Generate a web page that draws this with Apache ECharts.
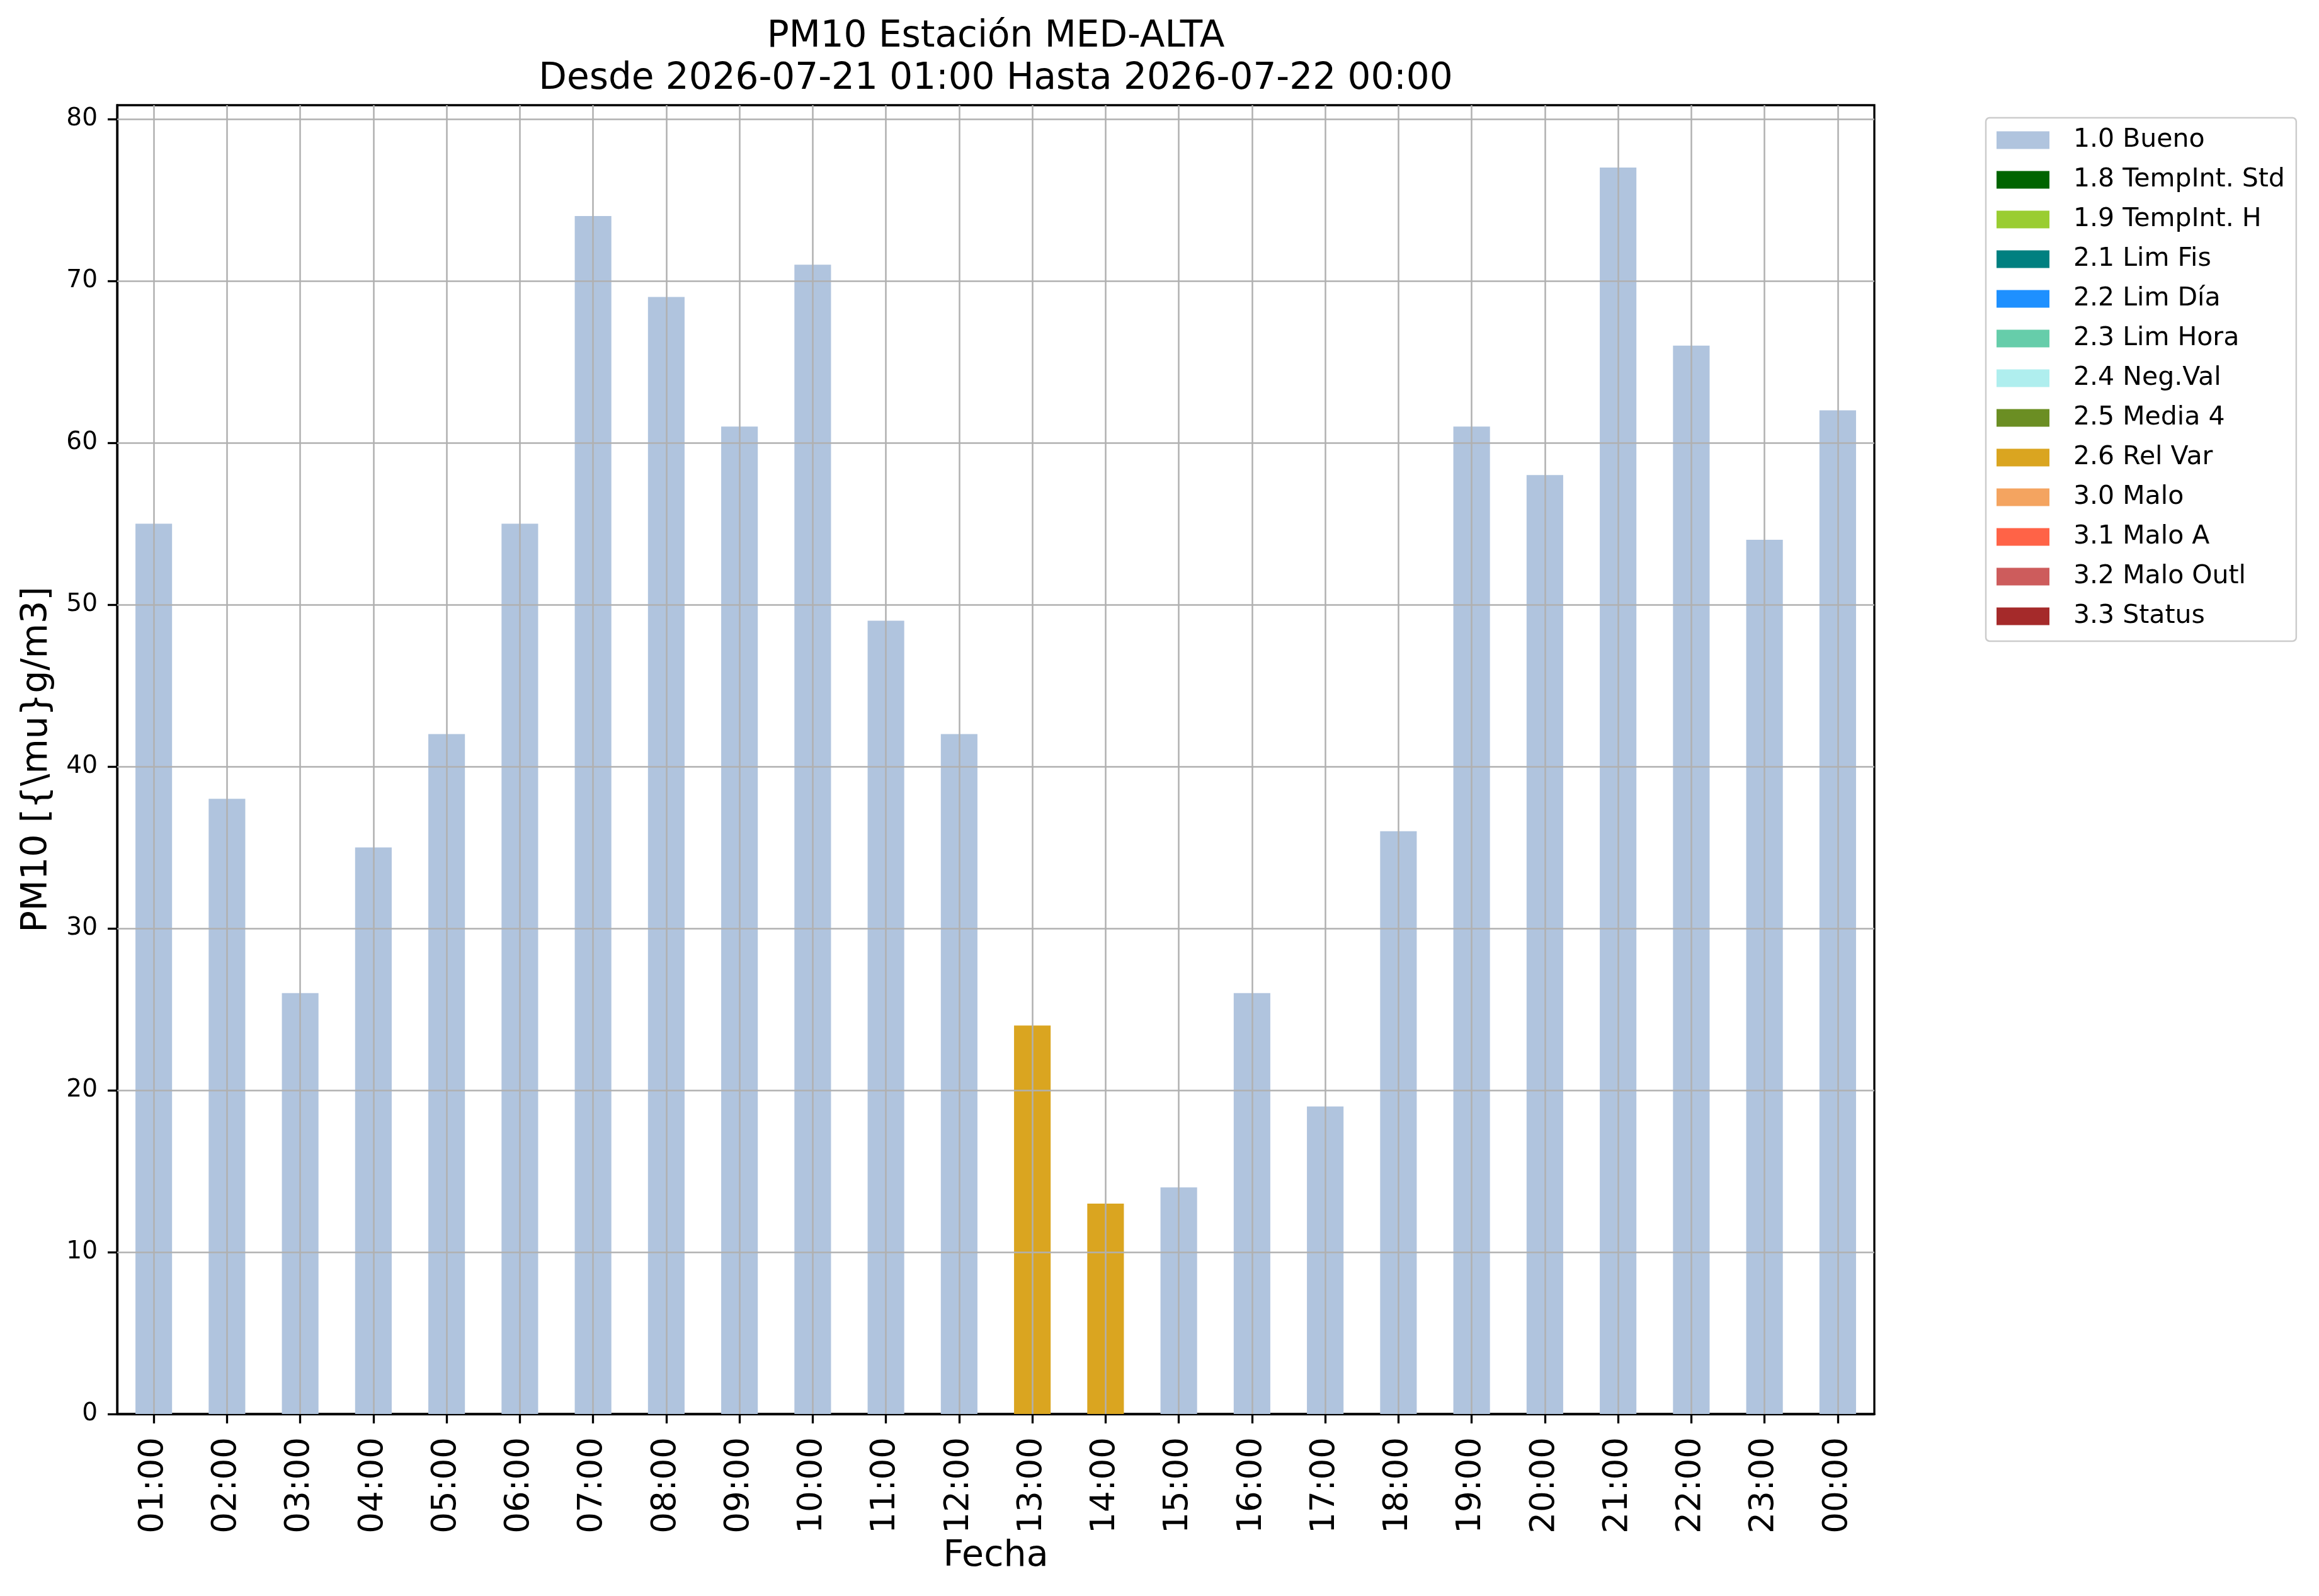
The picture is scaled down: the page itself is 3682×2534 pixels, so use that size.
<!DOCTYPE html>
<html lang="es" style="height: 100%">
  <head>
    <meta charset="utf-8" />
  </head>
  <body style="height: 100%; margin: 0; background: #ffffff">
    <div id="container" style="width: 3682px; height: 2534px"></div>

    <script
      type="text/javascript"
      src="https://cdn.jsdelivr.net/npm/echarts@6/dist/echarts.min.js"
    ></script>

    <script type="text/javascript">
      // horas del dia (eje x)
      var hours = [
        "01:00", "02:00", "03:00", "04:00", "05:00", "06:00",
        "07:00", "08:00", "09:00", "10:00", "11:00", "12:00",
        "13:00", "14:00", "15:00", "16:00", "17:00", "18:00",
        "19:00", "20:00", "21:00", "22:00", "23:00", "00:00",
      ];

      // valores por flag de calidad
      var bueno = [
        55, 38, 26, 35, 42, 55, 74, 69, 61, 71, 49, 42,
        null, null, 14, 26, 19, 36, 61, 58, 77, 66, 54, 62,
      ];
      var relVar = [
        null, null, null, null, null, null, null, null, null, null, null, null,
        24, 13, null, null, null, null, null, null, null, null, null, null,
      ];

      var flagNames = [
        "1.0 Bueno", "1.8 TempInt. Std", "1.9 TempInt. H", "2.1 Lim Fis",
        "2.2 Lim Día", "2.3 Lim Hora", "2.4 Neg.Val", "2.5 Media 4",
        "2.6 Rel Var", "3.0 Malo", "3.1 Malo A", "3.2 Malo Outl", "3.3 Status",
      ];
      var flagColors = [
        "#b0c4de", "#006400", "#9acd32", "#008080",
        "#1e90ff", "#66cdaa", "#afeeee", "#6b8e23",
        "#daa520", "#f4a460", "#ff6347", "#cd5c5c", "#a52a2a",
      ];

      var yTicks = [0, 10, 20, 30, 40, 50, 60, 70, 80];
      var yMax = 80.85;

      var FONT = "DejaVu Sans";
      var GRID_COLOR = "#b0b0b0";

      var dom = document.getElementById("container");
      var myChart = echarts.init(dom, null, { renderer: "canvas" });

      var empty = hours.map(function () {
        return null;
      });
      var dataByFlag = {
        "1.0 Bueno": bueno,
        "2.6 Rel Var": relVar,
      };

      var series = flagNames.map(function (name, i) {
        return {
          name: name,
          type: "bar",
          stack: "flags",
          barWidth: "50%",
          itemStyle: { color: flagColors[i] },
          data: dataByFlag[name] || empty,
        };
      });

      // rejilla estilo matplotlib, por encima de las barras
      // (la linea de 0 la tapa el eje)
      var gridLines = hours
        .map(function (h) {
          return { xAxis: h };
        })
        .concat(
          yTicks
            .filter(function (v) {
              return v > 0;
            })
            .map(function (v) {
              return { yAxis: v };
            })
        );
      series.push({
        name: "grid",
        type: "line",
        data: [],
        z: 5,
        markLine: {
          silent: true,
          symbol: "none",
          label: { show: false },
          lineStyle: { color: GRID_COLOR, width: 2.5, type: "solid" },
          emphasis: { disabled: true },
          animation: false,
          data: gridLines,
        },
      });

      var option = {
        animation: false,
        backgroundColor: "#ffffff",
        textStyle: { fontFamily: FONT, color: "#000" },
        title: {
          text: "PM10 Estación MED-ALTA\nDesde 2026-07-21 01:00 Hasta 2026-07-22 00:00",
          left: 1581,
          top: 25,
          padding: 0,
          textAlign: "center",
          textStyle: {
            fontFamily: FONT,
            fontSize: 58,
            fontWeight: "normal",
            lineHeight: 67,
            color: "#000",
          },
        },
        legend: {
          orient: "vertical",
          left: 3153,
          top: 187,
          data: flagNames,
          icon: "rect",
          itemWidth: 84,
          itemHeight: 28,
          itemGap: 22,
          padding: [15, 18, 19, 17],
          borderColor: "#cccccc",
          borderWidth: 2.5,
          borderRadius: 6,
          selectedMode: false,
          textStyle: {
            fontFamily: FONT,
            fontSize: 41,
            lineHeight: 41,
            color: "#000",
            padding: [0, 0, 0, 33],
          },
        },
        grid: {
          left: 186,
          right: 706,
          top: 167,
          bottom: 289,
          show: true,
          borderColor: "#000",
          borderWidth: 3.3,
          backgroundColor: "transparent",
        },
        xAxis: {
          type: "category",
          data: hours,
          boundaryGap: true,
          name: "Fecha",
          nameLocation: "middle",
          nameGap: 198,
          nameTextStyle: { fontFamily: FONT, fontSize: 57, color: "#000" },
          axisLine: { show: true, lineStyle: { color: "#000", width: 3.3 } },
          axisTick: {
            show: true,
            alignWithLabel: true,
            interval: 0,
            length: 15,
            lineStyle: { color: "#000", width: 3.3 },
          },
          axisLabel: {
            interval: 0,
            rotate: 90,
            margin: 37,
            fontFamily: FONT,
            fontSize: 53,
            color: "#000",
          },
          splitLine: { show: false },
        },
        yAxis: {
          type: "value",
          min: 0,
          max: yMax,
          interval: 10,
          name: "PM10 [{\\mu}g/m3]",
          nameLocation: "middle",
          nameGap: 98,
          nameTextStyle: { fontFamily: FONT, fontSize: 57, color: "#000" },
          axisLine: { show: true, lineStyle: { color: "#000", width: 3.3 } },
          axisTick: {
            show: true,
            length: 15,
            customValues: yTicks,
            lineStyle: { color: "#000", width: 3.3 },
          },
          axisLabel: {
            margin: 31,
            customValues: yTicks,
            fontFamily: FONT,
            fontSize: 39,
            color: "#000",
          },
          splitLine: { show: false },
        },
        series: series,
      };

      myChart.setOption(option);
      window.addEventListener("resize", myChart.resize);
    </script>
  </body>
</html>
